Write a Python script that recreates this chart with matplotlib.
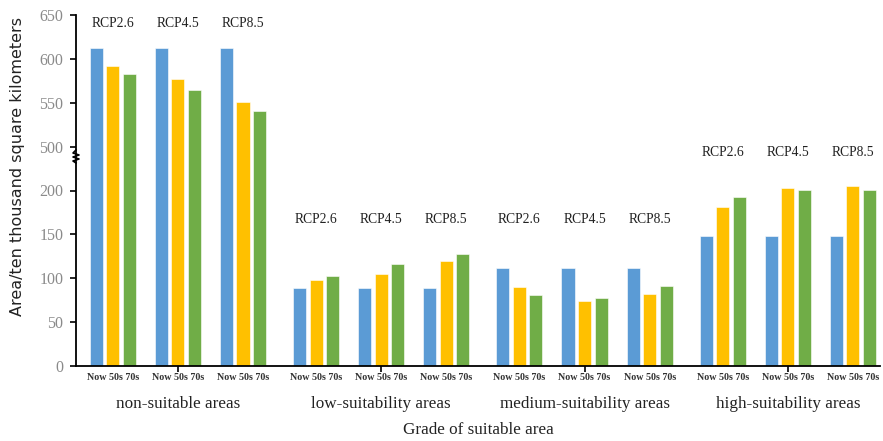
import numpy as np
import matplotlib
matplotlib.use("Agg")
import matplotlib.pyplot as plt

groups = ["non-suitable areas", "low-suitability areas", "medium-suitability areas", "high-suitability areas"]
scenarios = ["RCP2.6", "RCP4.5", "RCP8.5"]
periods = ["Now", "50s", "70s"]

# values[group][scenario] = [Now, 50s, 70s]
now_vals = [612, 89, 112, 148]
s50_vals = [[592, 577, 551], [98, 105, 120], [90, 74, 82], [181, 203, 205]]
s70_vals = [[583, 565, 541], [103, 116, 128], [81, 77, 91], [193, 201, 201]]

yticks = [0, 50, 100, 150, 200, 500, 550, 600, 650]
rcp_label_y = [0.977, 0.416, 0.416, 0.607]

colors = ["#5B9BD5", "#FFC000", "#70AD47"]


def fwd(v):
    v = np.asarray(v, dtype=float)
    return np.where(v <= 220, v, np.where(v >= 500, v - 250, 220 + (v - 220) * 30.0 / 280.0))


def inv(s):
    s = np.asarray(s, dtype=float)
    return np.where(s <= 220, s, np.where(s >= 250, s + 250, 220 + (s - 220) * 280.0 / 30.0))


fig = plt.figure(figsize=(8.83, 4.41), dpi=100)
ax = fig.add_axes([76 / 883, 1 - 366 / 441, 804 / 883, 351 / 441])
ax.set_yscale("function", functions=(fwd, inv))

gap = 0.123
bw = 0.2
pitch = 0.254
serif = ["Liberation Serif", "DejaVu Serif"]

group_centers = []
for g in range(len(groups)):
    for s in range(len(scenarios)):
        c = g * (3 + gap) + s
        vals = [now_vals[g], s50_vals[g][s], s70_vals[g][s]]
        for p in range(3):
            ax.bar(c + (p - 1) * pitch, vals[p], width=bw, color=colors[p],
                   edgecolor="white", linewidth=0.4, zorder=2)
        ax.text(c, -0.034, "Now 50s 70s", transform=ax.get_xaxis_transform(),
                ha="center", va="center", fontsize=7.2, fontweight="bold",
                family=serif, color="#333333")
        ax.text(c, rcp_label_y[g], scenarios[s], transform=ax.get_xaxis_transform(),
                ha="center", va="center", fontsize=9.8, family=serif, color="#222222")
    gc = g * (3 + gap) + 1
    group_centers.append(gc)
    ax.text(gc, -0.108, groups[g], transform=ax.get_xaxis_transform(),
            ha="center", va="center", fontsize=12.3, family=serif, color="#222222")

ax.set_xlim(-0.565, 3 * (3 + gap) + 2 + 0.415)
ax.set_ylim(0, 650)
ax.set_yticks(yticks)
ax.set_yticklabels([str(t) for t in yticks], family=serif, fontsize=11.5, color="#8a8a8a")
ax.yaxis.set_minor_locator(matplotlib.ticker.NullLocator())
ax.set_xticks(group_centers)
ax.set_xticklabels([])
ax.tick_params(axis="both", direction="out", length=4, width=1.2, color="black")
ax.tick_params(axis="y", pad=5)

for sp in ["top", "right"]:
    ax.spines[sp].set_visible(False)
for sp in ["left", "bottom"]:
    ax.spines[sp].set_linewidth(1.3)

# axis break squiggle
dx = 3 / 804
ys = np.array([150, 153, 155, 157, 159, 161, 163])
yf = (366 - ys) / 351
xs = np.array([0, -dx, dx, -dx, dx, -dx, 0])
ax.plot(xs, yf, transform=ax.transAxes, color="black", lw=1.2, clip_on=False, zorder=5)

fig.text((76 + 880) / 2 / 883, 1 - 430 / 441, "Grade of suitable area",
         ha="center", va="center", fontsize=12.3, family=serif, color="#222222")
fig.text(18 / 883, 1 - 166 / 441, "Area/ten thousand square kilometers", rotation=90,
         ha="center", va="center", fontsize=11.5, family=["DejaVu Sans"], color="#222222")

fig.savefig("out.png", dpi=100)
